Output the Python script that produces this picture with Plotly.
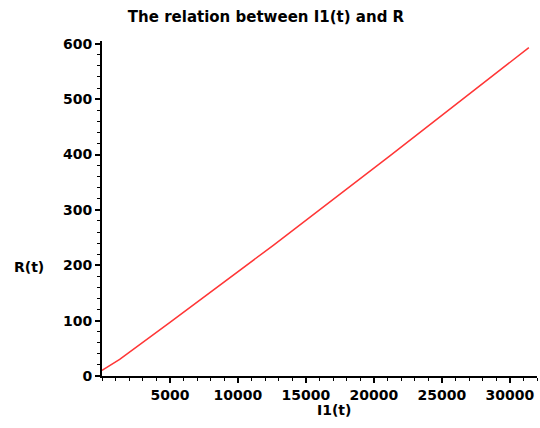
import plotly.graph_objects as go

# data
i1_values = [0, 1300, 5000, 12600, 21200, 27000, 31400]
r_values = [10, 30, 97, 236, 398, 508, 593]

y_ticks = [0, 100, 200, 300, 400, 500, 600]
x_ticks = [5000, 10000, 15000, 20000, 25000, 30000]

FONT = "DejaVu Sans"

fig = go.Figure()
fig.add_trace(go.Scatter(x=i1_values, y=r_values, mode="lines",
                         line=dict(color="#ff3636", width=1.5),
                         showlegend=False, hoverinfo="skip"))

fig.update_layout(
    width=540, height=428,
    margin=dict(l=102, r=3, t=41, b=52),
    paper_bgcolor="white", plot_bgcolor="white",
    title=dict(text="<b>The relation between I1(t) and R</b>",
               x=266/540, xanchor="center", y=1-17/428, yanchor="middle",
               font=dict(family=FONT, size=15, color="black")),
    font=dict(family=FONT, size=13, color="black"),
)

fig.update_xaxes(
    range=[0, 32000], showgrid=False, zeroline=False,
    showline=True, linecolor="black", linewidth=2,
    ticks="outside", ticklen=5, tickwidth=1.5, tickcolor="black",
    tickvals=x_ticks, ticktext=[f"<b>{v}</b>" for v in x_ticks],
    minor=dict(dtick=1000, ticklen=3, tickwidth=1, tickcolor="black", ticks="outside", showgrid=False),
    tickfont=dict(family=FONT, size=14, color="black"),
)
fig.update_yaxes(
    range=[0, 605], showgrid=False, zeroline=False,
    showline=True, linecolor="black", linewidth=2,
    ticks="outside", ticklen=5, tickwidth=1.5, tickcolor="black",
    tickvals=y_ticks, ticktext=[f"<b>{v}</b>" for v in y_ticks],
    minor=dict(dtick=20, ticklen=3, tickwidth=1, tickcolor="black", ticks="outside", showgrid=False),
    tickfont=dict(family=FONT, size=14, color="black"),
)

fig.add_annotation(text="<b>R(t)</b>", xref="paper", yref="paper",
                   x=-(102-29)/435, y=(376-267)/335, showarrow=False,
                   xanchor="center", yanchor="middle",
                   font=dict(family=FONT, size=14, color="black"))
fig.add_annotation(text="<b>I1(t)</b>", xref="paper", yref="paper",
                   x=(334-102)/435, y=-(410-376)/335, showarrow=False,
                   xanchor="center", yanchor="middle",
                   font=dict(family=FONT, size=14, color="black"))

fig.write_html("out.html")
